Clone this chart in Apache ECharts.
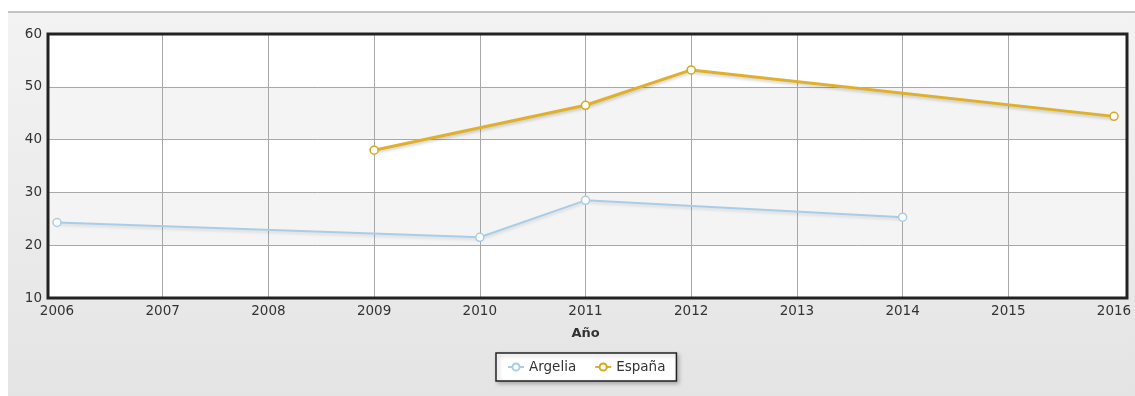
<!DOCTYPE html>
<html><head><meta charset="utf-8">
<script src="https://cdn.jsdelivr.net/npm/echarts@6/dist/echarts.min.js"></script>
<style>
html,body{margin:0;padding:0;width:1135px;height:396px;background:#fff;overflow:hidden}
#bg{position:absolute;left:8px;top:11px;width:1127px;height:385px;border-top:2px solid #c4c4c4;background:linear-gradient(#f3f3f3,#e4e4e4)}
#c{position:absolute;left:0;top:0;width:1135px;height:396px}
</style></head><body>
<div id="bg"></div>
<div id="c"></div>
<script>
const years = [2006, 2007, 2008, 2009, 2010, 2011, 2012, 2013, 2014, 2015, 2016];
const argeliaYears = [2006, 2010, 2011, 2014];
const argeliaValues = [24.3, 21.5, 28.5, 25.3];
const espanaYears = [2009, 2011, 2012, 2016];
const espanaValues = [38.0, 46.5, 53.2, 44.4];
const yTicks = [10, 20, 30, 40, 50, 60];

const chart = echarts.init(document.getElementById('c'));
const font = '"DejaVu Sans", Verdana, sans-serif';
const yBase = {type: 'value', min: yTicks[0], max: yTicks[yTicks.length-1], interval: 10,
  axisLine: {show: false}, axisTick: {show: false}};
chart.setOption({
  animation: false,
  textStyle: {fontFamily: font},
  grid: [
    {left: 57, right: 21, top: 34, bottom: 98, outerBoundsMode: 'none', containLabel: false, show: false},
    {left: 48, right: 8, top: 34, bottom: 98, outerBoundsMode: 'none', containLabel: false,
      show: true, borderColor: '#222', borderWidth: 3, backgroundColor: 'transparent', z: 5}
  ],
  xAxis: [
    {
      gridIndex: 0, type: 'value', min: years[0], max: years[years.length-1], interval: 1,
      name: 'Año', nameLocation: 'middle', nameGap: 29,
      nameTextStyle: {fontWeight: 'bold', fontSize: 13, color: '#333', fontFamily: font},
      axisLine: {show: false}, axisTick: {show: false},
      axisLabel: {color: '#333', fontSize: 13.5, margin: 6, fontFamily: font, formatter: v => String(v)},
      splitLine: {show: true, showMinLine: false, showMaxLine: false, lineStyle: {color: '#a8a8a8', width: 1}}
    },
    {gridIndex: 1, type: 'value', min: 0, max: 1, show: false}
  ],
  yAxis: [
    Object.assign({gridIndex: 0, axisLabel: {show: false}, splitLine: {show: false}}, yBase),
    Object.assign({gridIndex: 1,
      axisLabel: {color: '#333', fontSize: 13.5, margin: 6, fontFamily: font},
      splitLine: {show: true, lineStyle: {color: '#a8a8a8', width: 1}},
      splitArea: {show: true, areaStyle: {color: ['#ffffff', '#f4f4f4']}}}, yBase)
  ],
  legend: {
    top: 353, left: 496, itemGap: 18, itemWidth: 16, itemHeight: 9,
    padding: [7, 11], borderColor: '#222', borderWidth: 1.5, backgroundColor: '#fff',
    shadowColor: 'rgba(0,0,0,0.25)', shadowBlur: 4, shadowOffsetX: 2, shadowOffsetY: 2,
    textStyle: {color: '#333', fontSize: 13.5, fontFamily: font},
    data: ['Argelia', 'España']
  },
  series: [
    {
      name: 'Argelia', type: 'line', z: 10, xAxisIndex: 0, yAxisIndex: 0,
      data: argeliaYears.map((y, i) => [y, argeliaValues[i]]),
      symbol: 'circle', symbolSize: 8, color: '#a8cde9',
      lineStyle: {width: 2, color: '#a8cde9', shadowColor: 'rgba(0,0,0,0.12)', shadowBlur: 3, shadowOffsetY: 2},
      itemStyle: {color: '#fff', borderColor: '#a8cde9', borderWidth: 1.5}
    },
    {
      name: 'España', type: 'line', z: 10, xAxisIndex: 0, yAxisIndex: 0,
      data: espanaYears.map((y, i) => [y, espanaValues[i]]),
      symbol: 'circle', symbolSize: 8, color: '#e0b02a',
      lineStyle: {width: 3, color: '#e0b02a', shadowColor: 'rgba(0,0,0,0.18)', shadowBlur: 3, shadowOffsetY: 2},
      itemStyle: {color: '#fff', borderColor: '#d4a820', borderWidth: 1.5}
    }
  ]
});
</script>
</body></html>
